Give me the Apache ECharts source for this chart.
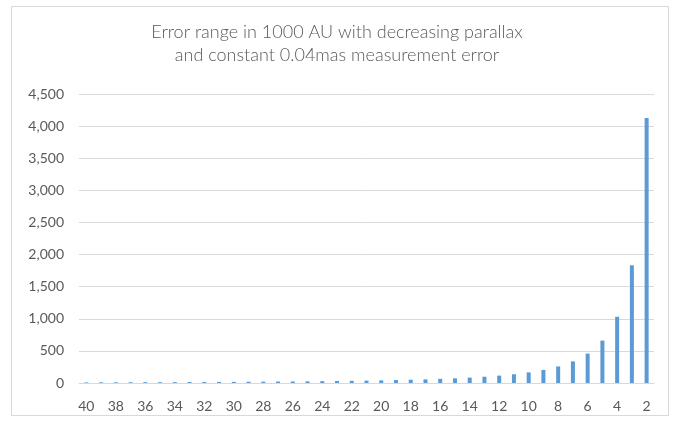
<!DOCTYPE html>
<html>
<head>
<meta charset="utf-8">
<script src="https://cdn.jsdelivr.net/npm/echarts@6/dist/echarts.min.js"></script>
<style>
  html, body { margin: 0; padding: 0; background: #fff; }
  .frame {
    position: absolute;
    left: 11px; top: 6px;
    width: 658px; height: 410px;
    border: 1px solid #d9d9d9;
    box-sizing: border-box;
  }
  #chart { position: absolute; left: 0; top: 0; width: 674px; height: 421px; }
</style>
</head>
<body>
<div class="frame"></div>
<div id="chart"></div>
<script>
// parallax (mas), from 40 down to 2
const parallax = ['40', '39', '38', '37', '36', '35', '34', '33', '32', '31', '30',
  '29', '28', '27', '26', '25', '24', '23', '22', '21', '20', '19', '18', '17', '16',
  '15', '14', '13', '12', '11', '10', '9', '8', '7', '6', '5', '4', '3', '2']

// error range in 1000 AU
const errorRange = [10, 11, 11, 12, 13, 13, 14, 15, 16, 17, 18,
  20, 21, 23, 24, 26, 29, 31, 34, 37, 41, 46, 51, 57, 65,
  73, 84, 98, 115, 136, 165, 204, 258, 337, 458, 660, 1031, 1833, 4125]

const yTicks = { min: 0, max: 4500, interval: 500 }

const myChart = echarts.init(document.getElementById('chart'), null, { renderer: 'canvas' })
myChart.setOption({
  animation: false,
  title: {
    text: 'Error range in 1000 AU with decreasing parallax\nand constant 0.04mas measurement error',
    left: 'center',
    top: 16,
    textStyle: {
      fontFamily: 'Lato',
      fontWeight: 300,
      fontSize: 18,
      lineHeight: 23,
      color: '#595959'
    }
  },
  grid: {
    left: 79,
    right: 20,
    top: 94,
    bottom: 38
  },
  xAxis: {
    type: 'category',
    data: parallax,
    axisLine: { lineStyle: { color: '#d9d9d9', width: 1 } },
    axisTick: { show: false },
    axisLabel: {
      interval: 1,
      color: '#595959',
      fontFamily: 'Lato',
      fontSize: 14,
      margin: 16
    }
  },
  yAxis: {
    type: 'value',
    min: yTicks.min,
    max: yTicks.max,
    interval: yTicks.interval,
    axisLine: { show: false },
    axisTick: { show: false },
    splitLine: { lineStyle: { color: '#d9d9d9', width: 1 } },
    axisLabel: {
      color: '#595959',
      fontFamily: 'Lato',
      fontSize: 14,
      margin: 15,
      formatter: v => v.toLocaleString('en-US')
    }
  },
  series: [
    {
      type: 'bar',
      data: errorRange,
      barWidth: 4,
      itemStyle: { color: '#5b9bd5' }
    }
  ]
})
</script>
</body>
</html>
